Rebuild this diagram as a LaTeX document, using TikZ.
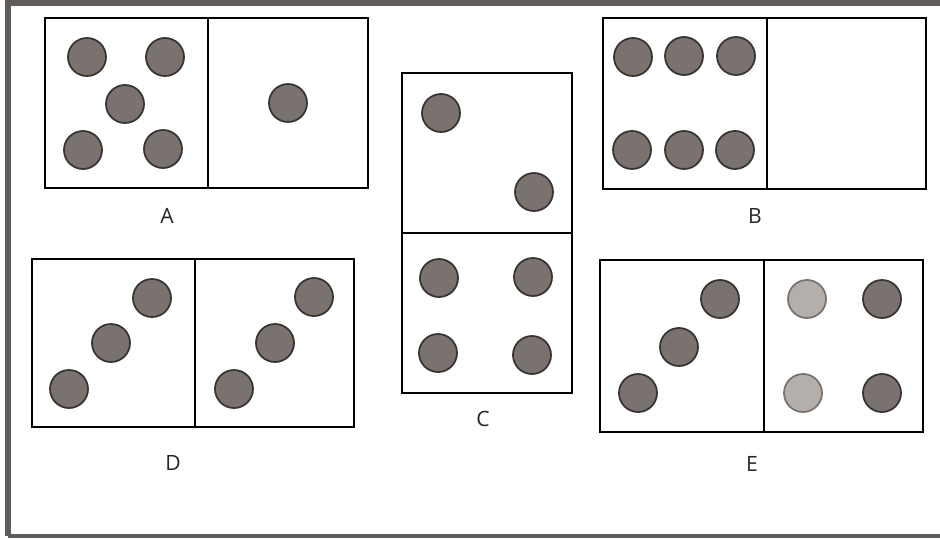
\documentclass[tikz,border=0pt]{standalone}
\usepackage{fontspec}
\setsansfont{Open Sans}
\usepackage{tikz}
\usetikzlibrary{positioning}
\definecolor{pipfill}{RGB}{122,114,110}
\definecolor{pipedge}{RGB}{55,52,50}
\definecolor{pipfaint}{RGB}{180,175,170}
\definecolor{scanedge}{RGB}{95,92,90}
\tikzset{
  tile/.style={draw=black,line width=0.6pt},
  pip/.style={fill=pipfill,draw=pipedge,line width=1pt},
  faintpip/.style={fill=pipfaint,draw=pipfill,line width=1pt},
  tag/.style={font=\sffamily\fontsize{12}{14}\selectfont,text=black!85}
}
\begin{document}
\begin{tikzpicture}[x=0.02cm,y=-0.02cm]
    \useasboundingbox (0,0) rectangle (940,538);
    \fill[white] (0,0) rectangle (940,538);
    % scan frame
    \draw[scanedge,line width=3.4pt] (8,536) -- (8,3) -- (940,3);
    \draw[scanedge,line width=1.8pt] (8,536) -- (940,536);
    % A
    \draw[tile] (45,18) rectangle (368,188); \draw[tile] (208,18) -- (208,188);
    \foreach \p in {(87,57),(165,57),(125,104),(83,150),(163,149),(288,103)}
      \draw[pip] \p circle (19);
    \node[tag] (labA) at (167,216) {A};
    % B
    \draw[tile] (603,18) rectangle (926,189); \draw[tile] (767,18) -- (767,189);
    \foreach \p in {(633,57),(684,56),(736,56),(632,150),(684,150),(735,150)}
      \draw[pip] \p circle (19);
    \node[tag] (labB) at (755,216) {B};
    % C
    \draw[tile] (402,73) rectangle (572,393); \draw[tile] (402,233) -- (572,233);
    \foreach \p in {(441,113),(534,192),(439,278),(533,277),(438,353),(532,355)}
      \draw[pip] \p circle (19);
    \node[tag] (labC) at (483,419) {C};
    % D
    \draw[tile] (32,259) rectangle (354,427); \draw[tile] (195,259) -- (195,427);
    \foreach \p in {(152,298),(111,343),(69,389),(314,297),(275,343),(234,389)}
      \draw[pip] \p circle (19);
    \node[tag] (labD) at (173,463) {D};
    % E
    \draw[tile] (600,260) rectangle (923,432); \draw[tile] (764,260) -- (764,432);
    \foreach \p in {(720,299),(679,347),(638,393),(882,299),(882,393)}
      \draw[pip] \p circle (19);
    \foreach \p in {(807,299),(803,393)}
      \draw[faintpip] \p circle (19);
    \node[tag] (labE) at (752,464) {E};
\end{tikzpicture}
\end{document}
